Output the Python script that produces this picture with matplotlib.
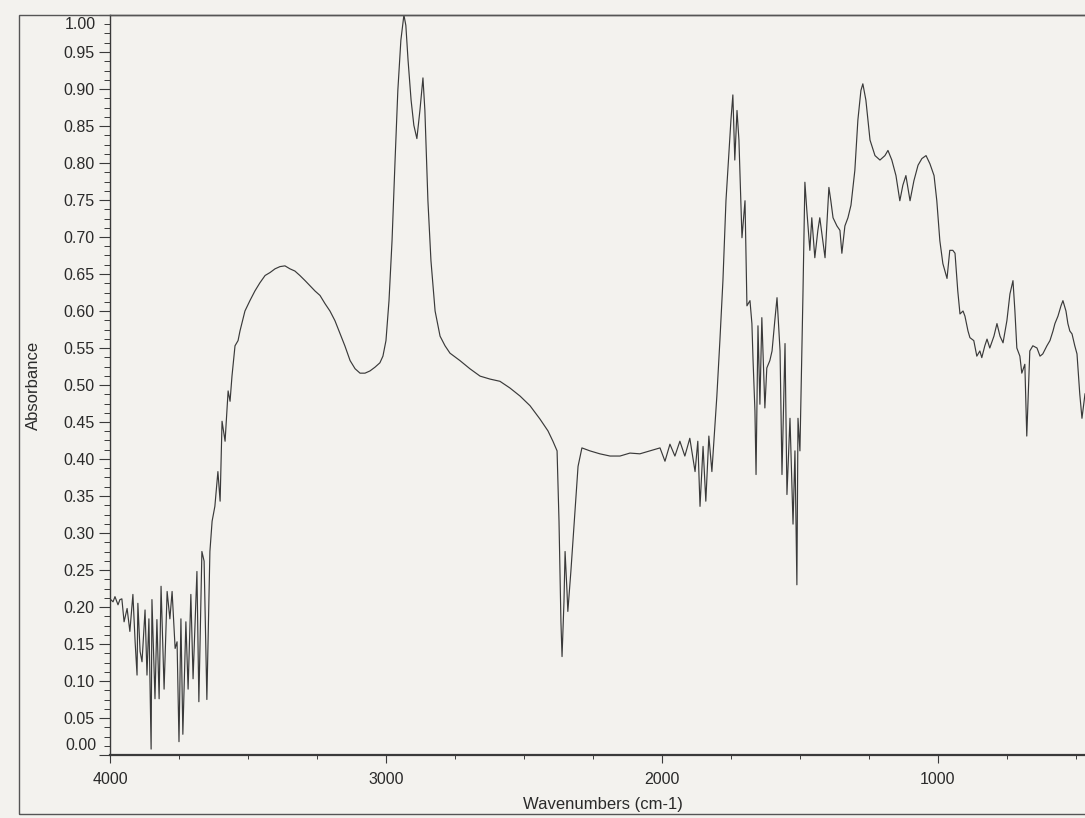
import matplotlib
matplotlib.use("Agg")
import matplotlib.pyplot as plt
from matplotlib.ticker import MultipleLocator, AutoMinorLocator, FormatStrFormatter
from matplotlib.patches import Rectangle

plt.rcParams['font.family'] = ['Liberation Sans', 'DejaVu Sans']

# ---- data ----
wavenumbers = [
    4000, 3989, 3982, 3971, 3964, 3957, 3949, 3938, 3928, 3917, 3909, 3902, 3899, 3891, 3884,
    3873, 3866, 3859, 3851, 3848, 3837, 3830, 3822, 3815, 3804, 3793, 3783, 3775, 3764, 3757,
    3750, 3743, 3736, 3725, 3717, 3707, 3699, 3685, 3678, 3667, 3659, 3649, 3638, 3630, 3620,
    3609, 3601, 3594, 3583, 3572, 3565, 3558, 3547, 3536, 3529, 3511, 3493, 3475, 3457, 3438,
    3420, 3402, 3384, 3366, 3348, 3330, 3312, 3293, 3275, 3257, 3239, 3221, 3203, 3185, 3167,
    3149, 3130, 3112, 3094, 3076, 3058, 3040, 3022, 3011, 3000, 2989, 2978, 2967, 2957, 2946,
    2935, 2928, 2920, 2909, 2899, 2888, 2877, 2866, 2859, 2848, 2837, 2822, 2804, 2786, 2768,
    2750, 2732, 2696, 2659, 2623, 2587, 2551, 2514, 2478, 2442, 2413, 2395, 2380, 2373, 2366,
    2362, 2355, 2351, 2344, 2341, 2330, 2315, 2304, 2290, 2261, 2225, 2188, 2152, 2116, 2080,
    2043, 2007, 1989, 1971, 1953, 1935, 1917, 1899, 1880, 1870, 1862, 1851, 1841, 1830, 1819,
    1808, 1801, 1790, 1779, 1768, 1757, 1750, 1743, 1736, 1728, 1721, 1710, 1699, 1692, 1681,
    1674, 1670, 1663, 1659, 1652, 1645, 1638, 1627, 1620, 1609, 1601, 1591, 1583, 1572, 1565,
    1554, 1547, 1536, 1525, 1518, 1511, 1507, 1500, 1489, 1482, 1475, 1464, 1457, 1446, 1435,
    1428, 1417, 1409, 1395, 1388, 1380, 1366, 1355, 1348, 1337, 1326, 1315, 1301, 1290, 1279,
    1272, 1261, 1246, 1228, 1210, 1192, 1181, 1167, 1152, 1138, 1127, 1116, 1101, 1087, 1072,
    1058, 1043, 1029, 1014, 1004, 993, 982, 967, 957, 946, 938, 928, 920, 909, 902,
    891, 884, 870, 859, 848, 841, 830, 822, 812, 797, 786, 775, 764, 750, 739,
    728, 721, 714, 703, 696, 685, 678, 667, 656, 641, 630, 620, 605, 594, 583,
    576, 565, 554, 547, 536, 529, 522, 514, 504, 496, 486, 478, 467,
]
absorbance = [
    0.211, 0.207, 0.214, 0.203, 0.210, 0.211, 0.180, 0.198, 0.167, 0.217, 0.153, 0.108, 0.205, 0.140, 0.126,
    0.196, 0.108, 0.184, 0.008, 0.210, 0.076, 0.183, 0.076, 0.228, 0.089, 0.221, 0.184, 0.221, 0.144, 0.153,
    0.018, 0.184, 0.028, 0.180, 0.089, 0.217, 0.103, 0.248, 0.072, 0.275, 0.262, 0.075, 0.275, 0.316, 0.336,
    0.383, 0.343, 0.451, 0.424, 0.492, 0.478, 0.512, 0.553, 0.560, 0.573, 0.600, 0.614, 0.627, 0.638, 0.648,
    0.652, 0.657, 0.660, 0.661, 0.657, 0.654, 0.648, 0.641, 0.634, 0.627, 0.621, 0.610, 0.600, 0.587, 0.570,
    0.553, 0.533, 0.522, 0.516, 0.516, 0.519, 0.524, 0.530, 0.539, 0.560, 0.614, 0.695, 0.804, 0.898, 0.966,
    1.000, 0.986, 0.939, 0.885, 0.851, 0.833, 0.871, 0.915, 0.871, 0.749, 0.668, 0.600, 0.566, 0.553, 0.543,
    0.538, 0.533, 0.522, 0.512, 0.508, 0.505, 0.496, 0.485, 0.472, 0.454, 0.438, 0.424, 0.411, 0.316, 0.180,
    0.133, 0.207, 0.275, 0.221, 0.194, 0.248, 0.329, 0.390, 0.415, 0.411, 0.407, 0.404, 0.404, 0.408, 0.407,
    0.411, 0.415, 0.397, 0.420, 0.404, 0.424, 0.404, 0.428, 0.383, 0.424, 0.336, 0.417, 0.343, 0.431, 0.383,
    0.444, 0.485, 0.560, 0.641, 0.749, 0.817, 0.858, 0.892, 0.804, 0.871, 0.831, 0.699, 0.749, 0.607, 0.614,
    0.583, 0.535, 0.465, 0.379, 0.580, 0.474, 0.591, 0.469, 0.523, 0.533, 0.546, 0.587, 0.618, 0.546, 0.379,
    0.556, 0.352, 0.455, 0.312, 0.411, 0.230, 0.455, 0.411, 0.623, 0.774, 0.736, 0.682, 0.726, 0.672, 0.709,
    0.726, 0.695, 0.672, 0.767, 0.749, 0.726, 0.715, 0.709, 0.678, 0.715, 0.726, 0.743, 0.790, 0.858, 0.898,
    0.907, 0.885, 0.831, 0.810, 0.804, 0.810, 0.817, 0.804, 0.783, 0.749, 0.770, 0.783, 0.749, 0.776, 0.797,
    0.806, 0.810, 0.799, 0.783, 0.749, 0.695, 0.664, 0.644, 0.682, 0.682, 0.678, 0.627, 0.596, 0.600, 0.593,
    0.573, 0.564, 0.560, 0.539, 0.546, 0.537, 0.553, 0.562, 0.550, 0.566, 0.583, 0.566, 0.557, 0.587, 0.623,
    0.641, 0.600, 0.550, 0.539, 0.516, 0.528, 0.431, 0.546, 0.553, 0.550, 0.539, 0.542, 0.553, 0.560, 0.573,
    0.583, 0.593, 0.607, 0.614, 0.600, 0.583, 0.573, 0.569, 0.553, 0.542, 0.488, 0.455, 0.488,
]
x_major_ticks = [4000, 3000, 2000, 1000]
y_label_text = "Absorbance"
x_label_text = "Wavenumbers (cm-1)"

# ---- figure ----
W, H = 1085, 818
paper = '#f3f2ee'
ink = '#3a3a3a'
txt = '#2a2a2a'
fs_tick = 11.5
fs_label = 12
fig = plt.figure(figsize=(W / 100, H / 100), dpi=100, facecolor=paper)

left_px, right_px, top_px, bottom_px = 110, 1085, 15, 755
ax = fig.add_axes([left_px / W, 1 - bottom_px / H,
                   (right_px - left_px) / W, (bottom_px - top_px) / H])
ax.set_facecolor(paper)

ax.plot(wavenumbers, absorbance, color=ink, lw=0.85)

ax.set_xlim(4000, 467)
ax.set_ylim(0.0, 1.0)

ax.set_xticks(x_major_ticks)
ax.xaxis.set_minor_locator(MultipleLocator(250))
ax.yaxis.set_major_locator(MultipleLocator(0.05))
ax.yaxis.set_minor_locator(AutoMinorLocator(4))
ax.yaxis.set_major_formatter(FormatStrFormatter('%.2f'))

ax.tick_params(axis='both', which='major', direction='out', colors=ink,
               labelsize=fs_tick, labelcolor=txt)
ax.tick_params(axis='y', which='major', length=8, width=0.8, pad=3)
ax.tick_params(axis='y', which='minor', length=4, width=0.7, colors=ink)
ax.tick_params(axis='x', which='major', length=6, width=0.8, pad=6)
ax.tick_params(axis='x', which='minor', length=3, width=0.7, colors=ink)

# end labels shifted inward, as on the original instrument printout
fig.canvas.draw()
labels = ax.get_yticklabels()
ticks = ax.get_yticks()
new = []
for t, lab in zip(ticks, labels):
    if abs(t - 0.0) < 1e-9 or abs(t - 1.0) < 1e-9:
        new.append('')
    else:
        new.append(lab.get_text())
ax.set_yticks(ticks)
ax.set_yticklabels(new)
ax.set_ylim(0.0, 1.0)
for val, dy in ((1.0, -6.5), (0.0, 7.0)):
    ax.annotate(f"{val:.2f}", xy=(0, val), xycoords=('axes fraction', 'data'),
                xytext=(-10.0, dy), textcoords='offset points', ha='right', va='center',
                fontsize=fs_tick, color=txt)

for s in ('left', 'bottom', 'top'):
    ax.spines[s].set_color(ink)
    ax.spines[s].set_linewidth(1.0)
ax.spines['bottom'].set_linewidth(1.6)
ax.spines['right'].set_visible(False)

ax.set_ylabel(y_label_text, fontsize=fs_label, color=txt)
ax.yaxis.set_label_coords((41 - left_px) / (right_px - left_px), 0.5)
fig.text(603 / W, 1 - 805 / H, x_label_text, ha='center', va='center',
         fontsize=fs_label, color=txt)

# outer frame of the printout
fig.add_artist(Rectangle((19 / W, 1 - 814 / H), 1.2, (814 - 15) / H,
                         transform=fig.transFigure, fill=False,
                         edgecolor='#555555', lw=1.0, clip_on=False))

fig.savefig('out.png', dpi=100, facecolor=paper)
